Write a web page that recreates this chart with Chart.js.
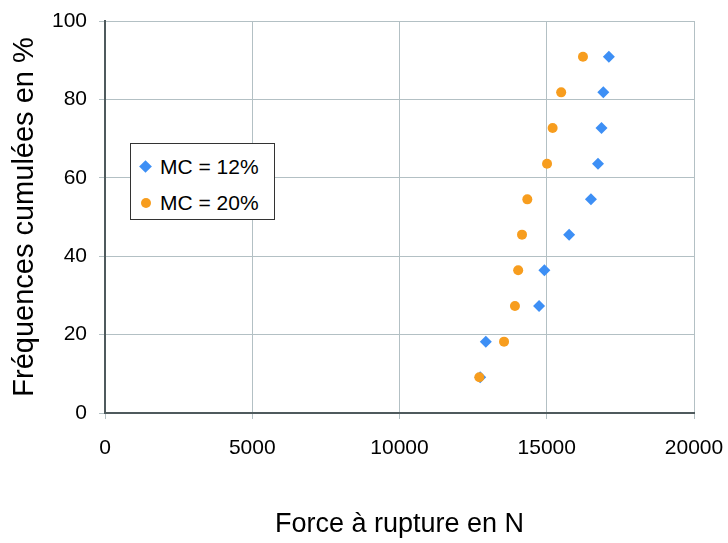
<!DOCTYPE html>
<html lang="fr">
<head>
<meta charset="UTF-8">
<title>Fréquences cumulées</title>
<script src="https://cdn.jsdelivr.net/npm/chart.js"></script>
<style>
  html, body { margin: 0; padding: 0; background: #fff; }
  #wrap { position: relative; width: 728px; height: 543px; }
  #legend {
    position: absolute; left: 130px; top: 143px; width: 145px; height: 77px;
    border: 1px solid #333; background: #fff; box-sizing: border-box;
    font-family: "Liberation Sans", Arial, sans-serif; font-size: 21px; color: #000;
  }
  .item { position: absolute; left: 0; height: 24px; line-height: 24px; white-space: nowrap; }
  .item span.mk { position: absolute; left: 10px; top: 7px; width: 9px; height: 9px; }
  .item span.txt { position: absolute; left: 29px; top: 0; }
  .diamond { background: #3d8ff5; transform: rotate(45deg); }
  .circle { background: #f79d1e; border-radius: 50%; width: 10px !important; height: 10px !important; }
</style>
</head>
<body>
<div id="wrap">
  <canvas id="chart" width="728" height="543"></canvas>
  <div id="legend">
    <div class="item" style="top:11px"><span class="mk diamond"></span><span class="txt">MC = 12%</span></div>
    <div class="item" style="top:47px"><span class="mk circle"></span><span class="txt">MC = 20%</span></div>
  </div>
</div>
<script>
// fréquences cumulées (%)
const freq = [9.1, 18.2, 27.3, 36.4, 45.5, 54.5, 63.6, 72.7, 81.8, 90.9];
// force à rupture (N)
const forceMC12 = [12740, 12930, 14740, 14920, 15760, 16500, 16740, 16860, 16920, 17110];
const forceMC20 = [12710, 13550, 13920, 14030, 14160, 14340, 15010, 15200, 15490, 16230];
const seriesLabels = ['MC = 12%', 'MC = 20%'];
const xTitle = 'Force à rupture en N';
const yTitle = 'Fréquences cumulées en %';

const gridColor = '#b3c0c4';
const axisColor = '#4f5a5d';
const font = 'Liberation Sans';

function pts(xs) {
  return xs.map((x, i) => ({ x: x, y: freq[i] }));
}

new Chart(document.getElementById('chart'), {
  type: 'scatter',
  data: {
    datasets: [
      {
        label: seriesLabels[0],
        data: pts(forceMC12),
        pointStyle: 'rectRot',
        pointRadius: 6,
        backgroundColor: '#3d8ff5',
        borderColor: '#3d8ff5',
        borderWidth: 0,
        order: 1
      },
      {
        label: seriesLabels[1],
        data: pts(forceMC20),
        pointStyle: 'circle',
        pointRadius: 5,
        backgroundColor: '#f79d1e',
        borderColor: '#f79d1e',
        borderWidth: 0,
        order: 0
      }
    ]
  },
  options: {
    responsive: false,
    animation: false,
    layout: { padding: { left: 8, top: 21, right: 34, bottom: 0 } },
    plugins: { legend: { display: false }, tooltip: { enabled: false } },
    scales: {
      x: {
        type: 'linear',
        min: 0, max: 20000,
        ticks: { stepSize: 5000, color: '#000', font: { family: font, size: 21 }, padding: 17, maxRotation: 0,
                 callback: v => String(v) },
        grid: { color: gridColor, tickColor: gridColor, tickLength: 6 },
        border: { color: axisColor, width: 2 },
        title: { display: true, text: xTitle, color: '#000', font: { family: font, size: 27 }, padding: { top: 0, bottom: 2 } },
        afterFit: s => { s.height = 130; s.paddingLeft = 0; s.paddingRight = 0; }
      },
      y: {
        min: 0, max: 100,
        ticks: { stepSize: 20, color: '#000', font: { family: font, size: 21 }, padding: 12,
                 callback: v => String(v) },
        grid: { color: gridColor, tickColor: gridColor, tickLength: 6 },
        border: { color: axisColor, width: 2 },
        title: { display: true, text: yTitle, color: '#000', font: { family: font, size: 29 }, padding: { top: 0, bottom: 0 } },
        afterFit: s => { s.width = 97; s.paddingTop = 0; s.paddingBottom = 0; }
      }
    }
  }
});
</script>
</body>
</html>
